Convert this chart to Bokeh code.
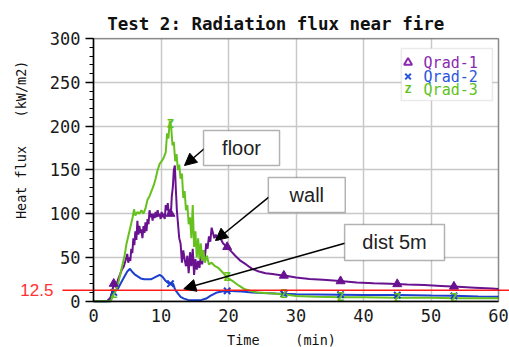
import numpy as np
from bokeh.plotting import figure
from bokeh.models import (Range1d, FixedTicker, Label, BoxAnnotation, Arrow,
                          NormalHead, Grid)
from bokeh.core.properties import value
from bokeh.embed import file_html
from bokeh.resources import INLINE

# Qrad-1 : wall gauge (kW/m2 vs minutes)
q1_time = [0, 2.0, 2.5, 2.8, 3.0, 3.3, 3.6, 3.9, 4.2, 4.5, 4.8,
           5.0, 5.15, 5.3, 5.45, 5.6, 5.75, 5.9, 6.05, 6.2, 6.35, 6.5, 6.65, 6.8,
           6.95, 7.1, 7.25, 7.4, 7.55, 7.7, 7.85, 8.0, 8.15, 8.3, 8.45, 8.6, 8.75,
           8.9, 9.05, 9.2, 9.35, 9.5, 9.65, 9.8, 9.95, 10.1, 10.25, 10.4, 10.55,
           10.7, 10.85, 11.0, 11.15, 11.3, 11.45, 11.6, 11.75, 11.9, 12.05, 12.2,
           12.35, 12.5, 12.7,
           12.9, 13.1, 13.3, 13.5, 13.7, 13.9, 14.1, 14.3, 14.5, 14.7, 14.9, 15.1,
           15.3, 15.5, 15.7, 15.9, 16.1, 16.3, 16.5, 16.7, 16.9, 17.1, 17.3, 17.5,
           17.7, 17.9, 18.1, 18.4, 18.8, 19.2, 19.8, 20.4, 21.0, 21.8, 22.6, 23.5,
           24.5, 25.5, 26.5, 27.5, 28.5, 30, 32, 34, 36.5, 39, 41.5, 44, 46.5, 49,
           51.5, 54, 56.5, 59, 60]
q1_flux = [0, 0, 4, 12, 20, 16, 24, 30, 36, 40, 48,
           54, 44, 50, 46, 60, 55, 72, 64, 80, 70, 92, 76, 86,
           78, 82, 72, 86, 78, 90, 80, 94, 88, 104, 96, 100, 92,
           100, 95, 102, 96, 104, 97, 100, 94, 102, 96, 100, 94,
           110, 104, 112, 100, 104, 98, 120, 130, 150, 155, 128,
           104, 90, 72,
           66, 44, 58, 48, 40, 52, 32, 56, 40, 60, 30, 48,
           36, 46, 38, 52, 42, 58, 50, 66, 60, 74, 68, 84,
           78, 72, 76, 70, 72, 66, 62, 57, 52, 46, 42, 37,
           34, 32, 31, 30, 29, 27, 25.5, 24.5, 23, 21.5, 20.5, 20, 19, 18.5,
           17.5, 16.5, 15.5, 14.5, 14]

# Qrad-2 : gauge at 5 m distance
q2_time = [0, 2.5, 2.8, 3.2, 3.6, 4.0, 4.5, 5.0, 5.4, 5.8, 6.2, 6.6, 7.0, 7.5, 8.0,
           8.5, 9.0, 9.5, 9.8, 10.2, 10.6, 11.0, 11.4, 11.8, 12.1, 12.5, 12.9,
           13.4, 14.0, 15.0, 16.0, 16.7, 17.3, 17.8, 18.3, 19.0, 20.0, 21.0, 22.0,
           23.5, 25, 27, 28.2, 30, 33, 36.6, 40, 45, 50, 53.4, 57, 60]
q2_flux = [0, 0, 8, 12, 14, 20, 27, 34, 37, 33, 30, 28, 26, 25, 25,
           25, 27, 29, 30, 28, 24, 21, 20, 20, 13, 9, 5,
           3, 1.5, 1, 1.5, 3, 6, 8, 10, 11, 12, 11.5, 11,
           10, 9.5, 8.8, 8.4, 8, 7.8, 7.5, 7.2, 7, 6.5, 6.2, 5.5, 5]

# Qrad-3 : floor gauge
q3_time = [0, 2.5, 2.8, 3.1, 3.4, 3.7, 4.0, 4.3, 4.6, 4.9, 5.2, 5.5, 5.8, 6.0, 6.2,
           6.5, 6.8, 7.1, 7.4, 7.7, 8.0, 8.3, 8.6, 8.9, 9.2, 9.5, 9.8, 10.1, 10.4,
           10.7, 10.9, 11.1, 11.3, 11.5, 11.7, 11.9, 12.1, 12.3, 12.5, 12.7, 12.9,
           13.1, 13.3, 13.5, 13.7, 13.9, 14.1, 14.3, 14.5, 14.7, 14.9, 15.1, 15.3,
           15.5, 15.7, 15.9, 16.1, 16.3, 16.5, 16.8, 17.1, 17.5, 18.0, 18.5, 19.0,
           19.5, 20.0, 20.8, 21.5, 22.3, 23.2, 24.3, 26, 28.2, 30, 33, 36.6, 40,
           45, 50, 53.4, 57, 60]
q3_flux = [0, 0, 4, 10, 14, 22, 32, 42, 52, 66, 76, 86, 96, 105, 98,
           102, 100, 104, 100, 106, 116, 120, 126, 132, 140, 150, 157, 160, 164,
           170, 192, 186, 206, 200, 178, 182, 160, 168, 150, 156, 140,
           146, 118, 126, 104, 110, 88, 96, 72, 110, 62, 80, 50,
           72, 48, 66, 46, 58, 44, 52, 42, 44, 40, 38, 34,
           30, 26, 22, 18, 14, 12, 10, 9, 8, 6, 5, 4.5, 4.5,
           4, 4, 3.5, 3.5, 3.5]

marker_times = [3.0, 11.4, 19.8, 28.2, 36.6, 45.0, 53.4]
x_ticks = [0, 10, 20, 30, 40, 50, 60]
y_ticks = [0, 50, 100, 150, 200, 250, 300]
y_minor = list(range(0, 301, 10))
threshold = 12.5

series_names = ["Qrad-1", "Qrad-2", "Qrad-3"]
line_colors = ["#681290", "#1c3fcf", "#66c01e"]
legend_colors = ["#8a2ab0", "#2a55e0", "#5cc21c"]

MONO = "DejaVu Sans Mono"
SANS = "Liberation Sans"

X0, X1 = 0, 60     # plotted time span
Y0, Y1 = 0, 300    # plotted flux span

# The frame covers the whole canvas; axes sit at the data origin so that the
# captions, threshold tag and its line can run outside the plotted box.
p = figure(width=509, height=347, output_backend="svg", toolbar_location=None,
           x_range=Range1d(-13.78, 61.63), y_range=Range1d(-52.9, 343.66),
           min_border_left=0, min_border_right=0, min_border_top=0,
           min_border_bottom=0)
p.background_fill_color = "white"
p.border_fill_color = "white"
p.outline_line_color = None

# axes
p.xaxis.ticker = FixedTicker(ticks=x_ticks)
p.yaxis.ticker = FixedTicker(ticks=y_ticks, minor_ticks=y_minor)
p.xaxis.fixed_location = Y0
p.yaxis.fixed_location = X0
p.xaxis.bounds = (X0, X1)
p.yaxis.bounds = (Y0, Y1)
for ax in p.axis:
    ax.axis_line_color = "black"
    ax.axis_line_width = 1.5
    ax.major_tick_line_color = "black"
    ax.major_tick_line_width = 1.5
    ax.minor_tick_line_color = "black"
    ax.minor_tick_line_width = 1.2
    ax.major_tick_in = 0
    ax.minor_tick_in = 0
    ax.major_label_text_font = MONO
    ax.major_label_text_font_size = "17px"
    ax.major_label_text_color = "#1a1a1a"
p.yaxis.major_tick_out = 8
p.yaxis.minor_tick_out = 4
p.yaxis.major_label_standoff = 5
p.xaxis.major_tick_out = 0
p.xaxis.minor_tick_out = 0
p.xaxis.major_label_standoff = 8

p.xgrid.ticker = FixedTicker(ticks=x_ticks)
p.ygrid.ticker = FixedTicker(ticks=y_ticks)
p.xgrid.bounds = (X0, X1)
p.ygrid.bounds = (Y0, Y1)
if "cross_bounds" in Grid.properties():
    p.xgrid.cross_bounds = (Y0, Y1)
    p.ygrid.cross_bounds = (X0, X1)
p.grid.grid_line_color = "#c8c8c8"
p.grid.grid_line_width = 1.5

# data traces
series = [(q1_time, q1_flux), (q2_time, q2_flux), (q3_time, q3_flux)]
for (tt, qq), col in zip(series, line_colors):
    p.line(tt, qq, line_color=col, line_width=2)

# periodic symbols along each trace
mk1 = np.interp(marker_times, q1_time, q1_flux)
mk2 = np.interp(marker_times, q2_time, q2_flux)
mk3 = np.interp(marker_times, q3_time, q3_flux)
p.scatter(marker_times, mk1, marker="triangle", size=9, fill_color=line_colors[0],
          line_color=line_colors[0])
p.scatter(marker_times, mk2, marker="x", size=9, line_color=line_colors[1], line_width=2)
p.text(marker_times, mk3, text=["Z"] * len(marker_times), text_color=line_colors[2],
       text_font=value(MONO), text_font_style="bold", text_font_size="12px",
       text_align="center", text_baseline="middle")

# plot box (top and right edges; left and bottom come from the axes)
p.add_layout(BoxAnnotation(left=X0, right=X1, bottom=Y0, top=Y1, fill_alpha=0,
                           line_color="black", line_width=1.5))

# 12.5 kW/m2 threshold line, running past the box on both sides
p.segment(x0=[-4.6], y0=[threshold], x1=[61.63], y1=[threshold],
          line_color="#ff1a1a", line_width=1.5)
p.add_layout(Label(x=-8.4, y=threshold, text=f"{threshold}", text_color="#ff3030",
                   text_font=SANS, text_font_size="17px", text_align="center",
                   text_baseline="middle"))

# title and axis captions
p.add_layout(Label(x=27.0, y=316.8, text="Test 2: Radiation flux near fire",
                   text_font=MONO, text_font_size="17.5px", text_font_style="bold",
                   text_color="#111111", text_align="center", text_baseline="middle"))
p.add_layout(Label(x=-10.8, y=135.7, text="Heat flux", angle=np.pi / 2,
                   text_font=MONO, text_font_size="13.5px", text_color="#111111",
                   text_align="center", text_baseline="middle"))
p.add_layout(Label(x=-10.8, y=242.5, text="(kW/m2)", angle=np.pi / 2,
                   text_font=MONO, text_font_size="13.5px", text_color="#111111",
                   text_align="center", text_baseline="middle"))
p.add_layout(Label(x=22.2, y=-44.9, text="Time", text_font=MONO,
                   text_font_size="13.5px", text_color="#111111",
                   text_align="center", text_baseline="middle"))
p.add_layout(Label(x=32.9, y=-44.9, text="(min)", text_font=MONO,
                   text_font_size="13.5px", text_color="#111111",
                   text_align="center", text_baseline="middle"))

# callout boxes with arrows
callouts = [
    ("floor", (16.3, 27.56, 195.1, 155.1), (16.44, 174.5, 13.48, 155.1)),
    ("wall", (25.9, 37.3, 141.4, 101.4), (25.97, 118.9, 18.07, 69.4)),
    ("dist 5m", (37.2, 52.0, 87.7, 46.5), (37.23, 66.3, 13.37, 14.2)),
]
for text, (l, r, t, b), (xs, ys, xe, ye) in callouts:
    p.add_layout(Arrow(end=NormalHead(size=12, fill_color="black", line_color="black"),
                       x_start=xs, y_start=ys, x_end=xe, y_end=ye,
                       line_color="black", line_width=1.5))
    p.add_layout(BoxAnnotation(left=l, right=r, top=t, bottom=b, fill_color="white",
                               fill_alpha=1, line_color="black", line_width=1.5))
    p.add_layout(Label(x=(l + r) / 2, y=(t + b) / 2, text=text, text_font=SANS,
                       text_font_size="20px", text_color="#222222",
                       text_align="center", text_baseline="middle"))

# legend
p.add_layout(BoxAnnotation(left=45.6, right=59.1, top=288.8, bottom=229.4,
                           fill_color="white", fill_alpha=1, line_color="#bbbbbb",
                           line_width=1.5))
rows_y = [272.8, 256.8, 241.4]
p.scatter([46.6], [rows_y[0]], marker="triangle", size=8, fill_color="white",
          line_color=legend_colors[0], line_width=2, level="overlay")
p.scatter([46.6], [rows_y[1]], marker="x", size=8, line_color=legend_colors[1],
          line_width=2, level="overlay")
p.text([46.6], [rows_y[2]], text=["Z"], text_color=legend_colors[2],
       text_font=value(MONO), text_font_style="bold", text_font_size="11px",
       text_align="center", text_baseline="middle", level="overlay")
for name, col, yy in zip(series_names, legend_colors, rows_y):
    p.add_layout(Label(x=48.9, y=yy, text=name, text_font=MONO, text_font_size="15px",
                       text_color=col, text_align="left", text_baseline="middle"))

open("out.html", "w").write(file_html(p, INLINE))
